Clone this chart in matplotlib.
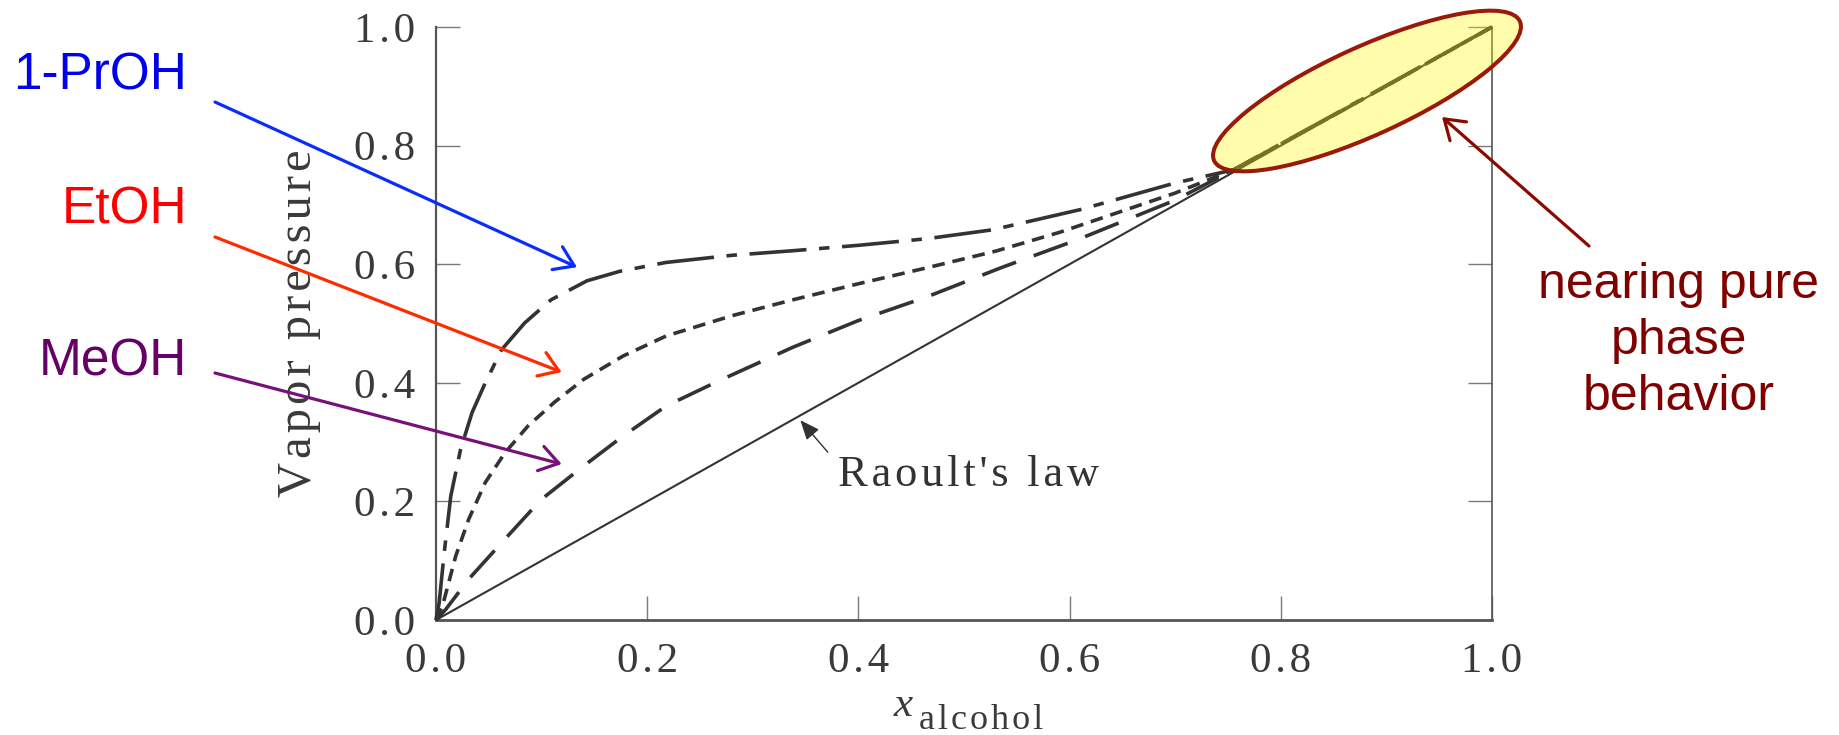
import matplotlib
matplotlib.use("Agg")
import matplotlib.pyplot as plt
from matplotlib.patches import Ellipse
from matplotlib.transforms import ScaledTranslation
from matplotlib.ticker import FuncFormatter

# ---------------- data ----------------
raoult_x = [0.0, 1.0]
raoult_y = [0.0, 1.0]

proh_x = [0.0, 0.003, 0.0078, 0.014, 0.0233, 0.0342, 0.0467, 0.0622, 0.084, 0.109, 0.143, 0.174,
          0.218, 0.28, 0.34, 0.401, 0.465, 0.527, 0.61, 0.70, 0.755, 0.85, 1.0]
proh_y = [0.0, 0.029, 0.114, 0.209, 0.288, 0.350, 0.400, 0.456, 0.501, 0.540, 0.572, 0.588,
          0.603, 0.615, 0.623, 0.632, 0.643, 0.658, 0.692, 0.737, 0.759, 0.852, 1.0]

etoh_x = [0.0, 0.0062, 0.0187, 0.031, 0.0467, 0.0653, 0.087, 0.112, 0.140, 0.177, 0.218, 0.28,
          0.338, 0.40, 0.465, 0.53, 0.591, 0.70, 0.755, 0.85, 1.0]
etoh_y = [0.0, 0.024, 0.108, 0.170, 0.232, 0.282, 0.327, 0.367, 0.406, 0.445, 0.479, 0.513,
          0.540, 0.567, 0.594, 0.622, 0.654, 0.72, 0.759, 0.851, 1.0]

meoh_x = [0.0, 0.0093, 0.031, 0.062, 0.0995, 0.140, 0.177, 0.218, 0.2675, 0.338, 0.40, 0.465,
          0.535, 0.607, 0.70, 0.755, 0.85, 1.0]
meoh_y = [0.0, 0.018, 0.069, 0.130, 0.203, 0.260, 0.310, 0.361, 0.403, 0.46, 0.505, 0.545,
          0.594, 0.641, 0.708, 0.759, 0.851, 1.0]

tick_values = [0.0, 0.2, 0.4, 0.6, 0.8, 1.0]
series_labels = ["1-PrOH", "EtOH", "MeOH"]
series_colors = ["#0000ee", "#ff0000", "#660066"]
arrow_colors = ["#0a2cff", "#ff2a00", "#771177"]
arrow_tips = [(0.1335, 0.595), (0.119, 0.418), (0.119, 0.263)]   # data coords

# ---------------- styling ----------------
SERIF = ["Liberation Serif", "DejaVu Serif"]
SANS = ["Liberation Sans", "DejaVu Sans"]
HAIR = "\u200a"


def spaced(s, sp=HAIR):
    return sp.join(s)


W, H = 1839, 735
fig = plt.figure(figsize=(W / 100, H / 100), dpi=100)
ax = fig.add_axes([436 / W, 1 - 620 / H, 1056 / W, 593 / H])

line_col = "#333333"
ax.plot(raoult_x, raoult_y, color=line_col, lw=1.5, solid_capstyle="butt", clip_on=False, zorder=3)
ax.plot(meoh_x, meoh_y, color=line_col, lw=2.6, dashes=(10, 5.2), clip_on=False, zorder=3)
ax.plot(etoh_x, etoh_y, color=line_col, lw=2.6, dashes=(3.5, 2.2), clip_on=False, zorder=3)
ax.plot(proh_x, proh_y, color=line_col, lw=2.6, dashes=(15.8, 3.5, 2.9, 3.5), clip_on=False, zorder=3)

ax.set_xlim(0, 1)
ax.set_ylim(0, 1)
ax.set_xticks(tick_values)
ax.set_yticks(tick_values)
fmt = FuncFormatter(lambda v, p: spaced(f"{v:.1f}"))
ax.xaxis.set_major_formatter(fmt)
ax.yaxis.set_major_formatter(fmt)

ax.spines["top"].set_visible(False)
for side, lw in (("left", 1.6), ("bottom", 2.0), ("right", 1.2)):
    ax.spines[side].set_color("#555555")
    ax.spines[side].set_linewidth(lw)

ax.tick_params(axis="both", direction="in", length=17, width=1.0, color="#7a7a7a",
               labelsize=31, labelcolor="#3a3a3a")
ax.tick_params(axis="y", right=True, labelright=False, pad=15)
ax.tick_params(axis="x", pad=16)
for lab in ax.get_xticklabels() + ax.get_yticklabels():
    lab.set_family(SERIF)

# axis labels
ax.set_ylabel(spaced("Vapor pressure"), family=SERIF, fontsize=35, color="#3a3a3a",
              ha="center", va="center")
ax.yaxis.set_label_coords((299 - 436) / 1056, 0.5)

ax.set_xlabel("x", family=SERIF, fontstyle="italic", fontsize=31, color="#3a3a3a",
              ha="center", va="baseline")
ax.xaxis.set_label_coords((903 - 436) / 1056, (620 - 716) / 593)
ax.text((919 - 436) / 1056, (620 - 729) / 593, spaced("alcohol"), transform=ax.transAxes,
        family=SERIF, fontsize=26, color="#3a3a3a", ha="left", va="baseline")

# Raoult's law note
ax.annotate("", xy=(0.345, 0.337), xytext=(0.371, 0.283),
            arrowprops=dict(arrowstyle="-|>,head_length=0.6,head_width=0.25", color="#333333",
                            lw=1.0, mutation_scale=20, shrinkA=0, shrinkB=0))
ax.text(0.381, (620 - 486) / 593, spaced("Raoult's law"), family=SERIF, fontsize=32,
        color="#333333", ha="left", va="baseline")

# left labels with arrows
label_baselines = [89, 224, 375]
arrow_tails = [(215, 102), (215, 237), (215, 373)]
for lab, col, acol, base, tail, tip in zip(series_labels, series_colors, arrow_colors,
                                           label_baselines, arrow_tails, arrow_tips):
    fig.text(187 / W, 1 - base / H, lab, family=SANS, fontsize=37, color=col,
             ha="right", va="baseline")
    ax.annotate("", xy=tip, xycoords="data", xytext=(tail[0], H - tail[1]),
                textcoords="figure pixels", annotation_clip=False,
                arrowprops=dict(arrowstyle="->,head_length=0.45,head_width=0.3", color=acol,
                                lw=2.3, mutation_scale=30, shrinkA=0, shrinkB=0))

# highlight ellipse (size in pixels, centred in data coords)
ell_center = ((1367 - 436) / 1056, (620 - 91) / 593)
ell = Ellipse((0, 0), width=3.36, height=0.88, angle=24.5,
              transform=fig.dpi_scale_trans + ScaledTranslation(ell_center[0], ell_center[1], ax.transData),
              facecolor=(1.0, 0.98, 0.0, 0.33), edgecolor="#9a1a0a", lw=2.9, clip_on=False, zorder=5)
ax.add_patch(ell)

# right annotation
ax.annotate("", xy=((1442 - 436) / 1056, (620 - 117) / 593), xycoords="data",
            xytext=(1589, H - 246), textcoords="figure pixels", annotation_clip=False,
            arrowprops=dict(arrowstyle="->,head_length=0.45,head_width=0.3", color="#8b0a00",
                            lw=2.3, mutation_scale=30, shrinkA=0, shrinkB=0))
fig.text(1679 / W, 1 - 262 / H, "nearing pure\nphase\nbehavior", family=SANS, fontsize=36,
         color="#800000", ha="center", va="top", multialignment="center", linespacing=1.28)

fig.savefig("out.png", dpi=100)
